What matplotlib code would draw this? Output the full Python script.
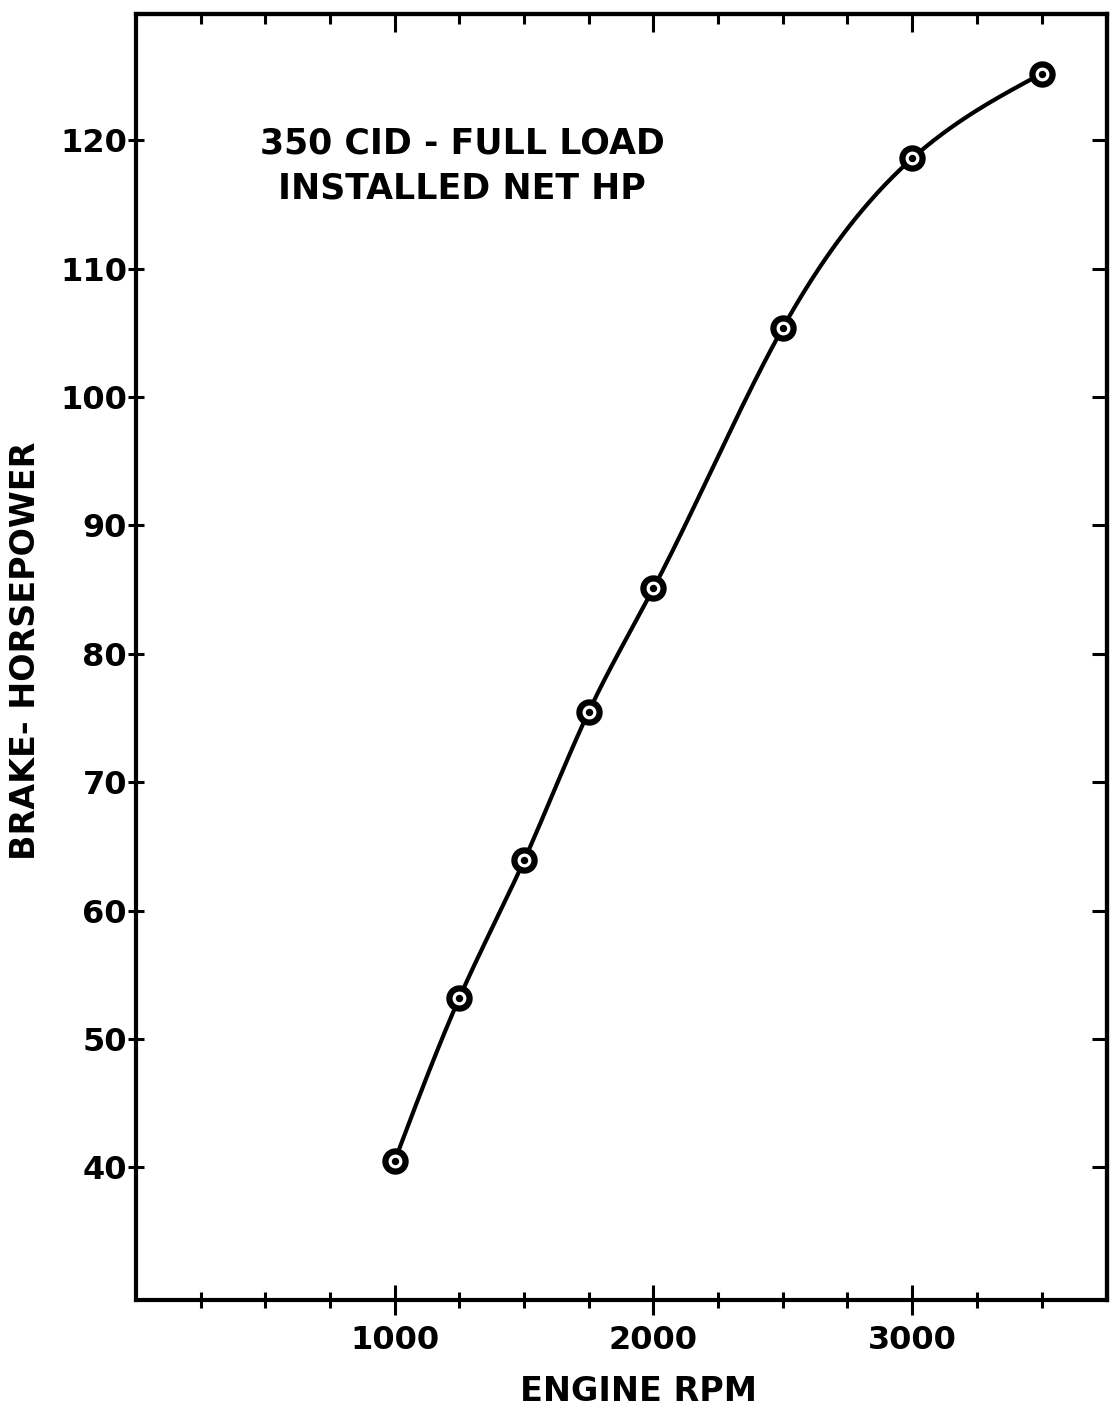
import numpy as np
import matplotlib
matplotlib.use('Agg')
import matplotlib.pyplot as plt
from matplotlib.ticker import FixedLocator

# Engine test data
rpm = [1000, 1250, 1500, 1750, 2000, 2500, 3000, 3500]
bhp = [40.5, 53.2, 63.9, 75.5, 85.1, 105.4, 118.6, 125.2]

x_major = [1000, 2000, 3000]
y_major = [40, 50, 60, 70, 80, 90, 100, 110, 120]

title_lines = "350 CID - FULL LOAD\nINSTALLED NET HP"
x_label = "ENGINE RPM"
y_label = "BRAKE- HORSEPOWER"


def natural_spline(x, y, n=400):
    # natural cubic spline, only used to draw the smooth curve through the points
    x = np.asarray(x, float)
    y = np.asarray(y, float)
    k = len(x)
    h = np.diff(x)
    A = np.zeros((k, k))
    b = np.zeros(k)
    A[0, 0] = A[-1, -1] = 1.0
    for i in range(1, k - 1):
        A[i, i - 1] = h[i - 1]
        A[i, i] = 2 * (h[i - 1] + h[i])
        A[i, i + 1] = h[i]
        b[i] = 3 * ((y[i + 1] - y[i]) / h[i] - (y[i] - y[i - 1]) / h[i - 1])
    c = np.linalg.solve(A, b)
    xs = np.linspace(x[0], x[-1], n)
    idx = np.clip(np.searchsorted(x, xs) - 1, 0, k - 2)
    dx = xs - x[idx]
    hi = h[idx]
    bb = (y[idx + 1] - y[idx]) / hi - hi * (2 * c[idx] + c[idx + 1]) / 3
    dd = (c[idx + 1] - c[idx]) / (3 * hi)
    ys = y[idx] + bb * dx + c[idx] * dx ** 2 + dd * dx ** 3
    return xs, ys


fig = plt.figure(figsize=(11.11, 14.05), dpi=100)
ax = fig.add_axes([0.1224, 0.0747, 0.8740, 0.9153])

xs, ys = natural_spline(rpm, bhp)
ax.plot(xs, ys, color='black', lw=3.0, solid_capstyle='round', zorder=2)
ax.plot(rpm, bhp, 'o', ms=14.5, mfc='white', mec='black', mew=4.5, zorder=3)
ax.plot(rpm, bhp, 'o', ms=4.3, color='black', zorder=4)

ax.set_xlim(0, 3753)
ax.set_ylim(29.65, 129.85)

for sp in ax.spines.values():
    sp.set_linewidth(3)

tick_font = {'family': 'DejaVu Sans', 'weight': 'bold', 'size': 23}
minor_x = [v for v in range(250, 3750, 250) if v not in x_major]

ax.xaxis.set_major_locator(FixedLocator(x_major))
ax.xaxis.set_minor_locator(FixedLocator(minor_x))
ax.yaxis.set_major_locator(FixedLocator(y_major))
ax.yaxis.set_minor_locator(FixedLocator([]))
ax.set_xticklabels([str(v) for v in x_major], fontdict=tick_font)
ax.set_yticklabels([str(v) for v in y_major], fontdict=tick_font)

ax.tick_params(axis='x', which='major', direction='inout', length=22, width=2.2, pad=7)
ax.tick_params(axis='x', which='minor', direction='inout', length=12, width=2.2)
ax.tick_params(axis='y', which='major', direction='inout', length=11, width=2.2, pad=1)

# top and right ticks point inward only
top = ax.secondary_xaxis('top')
top.xaxis.set_major_locator(FixedLocator(x_major))
top.xaxis.set_minor_locator(FixedLocator(minor_x))
top.tick_params(which='major', direction='in', length=13, width=2.2, labeltop=False)
top.tick_params(which='minor', direction='in', length=7, width=2.2)
top.spines['top'].set_linewidth(3)

right = ax.secondary_yaxis('right')
right.yaxis.set_major_locator(FixedLocator(y_major))
right.yaxis.set_minor_locator(FixedLocator([]))
right.tick_params(which='major', direction='in', length=11, width=2.2, labelright=False)
right.spines['right'].set_linewidth(3)

label_font = {'family': 'DejaVu Sans', 'weight': 'bold', 'size': 24}
ax.set_xlabel(x_label, fontdict=label_font)
ax.xaxis.set_label_coords(0.518, -0.058)
ax.set_ylabel(y_label, fontdict=label_font)
ax.yaxis.set_label_coords(-0.097, 0.505)

ax.text(0.336, 0.882, title_lines, transform=ax.transAxes, ha='center', va='center',
        multialignment='center', linespacing=1.4,
        fontdict={'family': 'DejaVu Sans', 'weight': 'bold', 'size': 25})

fig.savefig('out.png', dpi=100)
